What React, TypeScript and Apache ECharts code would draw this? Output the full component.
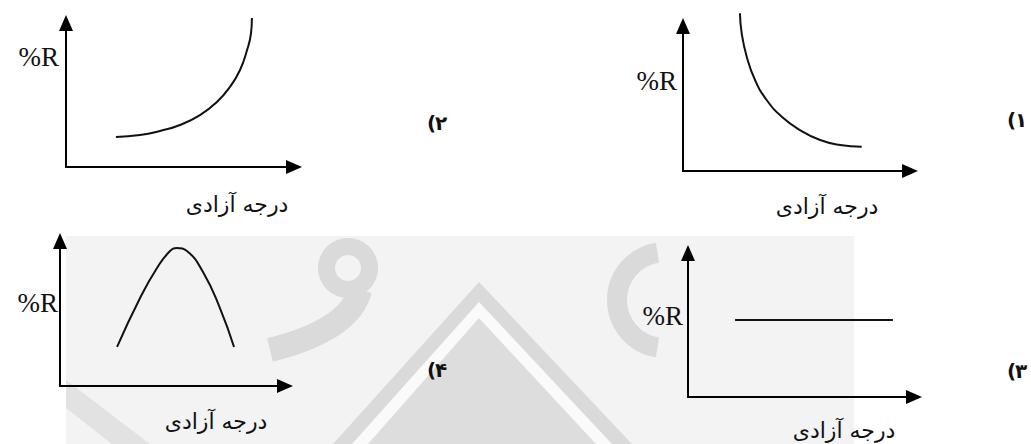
import React, { useEffect, useRef } from 'react';
import * as echarts from 'echarts';

// ---- texts ----
const optionParen = '(';
const optionDigits = ['۱', '۲', '۳', '۴'];
const yAxisTitle = '%R';
const xAxisTitle = 'درجه آزادی';

// ---- curves (x: degrees of freedom, y: %R, both on a 0..100 relative scale) ----
// option 1 (top right): decreasing
const curve1X = [26.0, 26.8, 29.1, 32.9, 38.2, 45.1, 53.4, 62.6, 71.7, 81.6];
const curve1Y = [115.1, 100.5, 83.4, 66.4, 51.8, 39.6, 29.9, 22.6, 19.0, 17.7];
// option 2 (top left): increasing
const curve2X = [22.7, 33.6, 42.7, 51.8, 60.9, 68.6, 74.5, 79.1, 82.3, 84.1, 84.5];
const curve2Y = [22.1, 23.5, 26.5, 30.9, 38.2, 47.8, 58.8, 71.3, 86.0, 98.5, 109.6];
// option 3 (bottom right): constant
const curve3X = [21.6, 94.0];
const curve3Y = [56.6, 56.6];
// option 4 (bottom left): rise then fall
const curve4X = [26.3, 36.9, 44.7, 50.7, 53.9, 58.5, 65.9, 73.7, 80.2];
const curve4Y = [28.5, 64.2, 86.1, 98.5, 100.7, 98.5, 83.2, 56.9, 28.5];

const curvesX = [curve1X, curve2X, curve3X, curve4X];
const curvesY = [curve1Y, curve2Y, curve3Y, curve4Y];

// layout of the four panels (option 1, 2, 3, 4)
const grids = [
  { left: 683, top: 34, width: 219, height: 137 },
  { left: 66, top: 31, width: 220, height: 136 },
  { left: 688, top: 261, width: 218, height: 136 },
  { left: 60, top: 249, width: 217, height: 137 },
];
const yTitlePos = [
  [677, 81],
  [59, 57],
  [683, 316],
  [58, 303],
];
const xTitlePos = [
  [827, 206],
  [237, 204],
  [844, 430],
  [216, 421],
];
const optionPos = [
  [1007, 120],
  [427, 123],
  [1007, 371],
  [427, 370],
];

const axisLine = {
  show: true,
  onZero: false,
  symbol: ['none', 'triangle'],
  symbolSize: [14, 16],
  symbolOffset: [0, 8],
  lineStyle: { color: '#000', width: 2 },
};

export default function App() {
  const ref = useRef<HTMLDivElement>(null);

  useEffect(() => {
    document.body.style.margin = '0';
    if (!ref.current) return;
    const chart = echarts.init(ref.current, null, { renderer: 'svg' });

    const gray = '#dadada';
    const watermark: any[] = [
      { type: 'rect', z: -20, shape: { x: 66, y: 236, width: 788, height: 208 }, style: { fill: '#f3f3f3' } },
      { type: 'polygon', z: -19, shape: { points: [[333, 444], [479, 282], [632, 444]] }, style: { fill: gray } },
      { type: 'polygon', z: -18, shape: { points: [[352, 444], [479, 302], [612, 444]] }, style: { fill: '#fafafa' } },
      { type: 'polygon', z: -17, shape: { points: [[368, 444], [479, 318], [596, 444]] }, style: { fill: '#dddddd' } },
      { type: 'ring', z: -16, shape: { cx: 348, cy: 268, r: 30, r0: 13 }, style: { fill: gray } },
      {
        type: 'bezierCurve', z: -16,
        shape: { x1: 360, y1: 290, cpx1: 350, cpy1: 330, x2: 270, y2: 350 },
        style: { stroke: gray, lineWidth: 24, fill: 'none' },
      },
      {
        type: 'arc', z: -16,
        shape: { cx: 665, cy: 300, r: 48, startAngle: Math.PI * 0.55, endAngle: Math.PI * 1.45 },
        style: { stroke: gray, lineWidth: 20, fill: 'none' },
      },
      { type: 'polygon', z: -16, shape: { points: [[66, 380], [66, 408], [112, 444], [150, 444]] }, style: { fill: '#e2e2e2' } },
    ];

    const texts: any[] = [];
    for (let i = 0; i < 4; i++) {
      texts.push({
        type: 'text', z: 100,
        x: yTitlePos[i][0], y: yTitlePos[i][1],
        style: {
          text: yAxisTitle, fill: '#111', font: '27px "Liberation Serif", "DejaVu Serif", serif',
          align: 'right', verticalAlign: 'middle',
        },
      });
      texts.push({
        type: 'text', z: 100,
        x: xTitlePos[i][0], y: xTitlePos[i][1],
        style: {
          text: xAxisTitle, fill: '#111', font: '22px "DejaVu Sans", sans-serif',
          align: 'center', verticalAlign: 'middle',
        },
      });
      // option number: parenthesis on the left, Persian digit on the right
      texts.push({
        type: 'text', z: 100,
        x: optionPos[i][0], y: optionPos[i][1],
        style: {
          text: optionParen, fill: '#111', font: 'bold 20px "DejaVu Sans", sans-serif',
          align: 'left', verticalAlign: 'middle',
        },
      });
      texts.push({
        type: 'text', z: 100,
        x: optionPos[i][0] + 8, y: optionPos[i][1],
        style: {
          text: optionDigits[i], fill: '#111', font: 'bold 20px "DejaVu Sans", sans-serif',
          align: 'left', verticalAlign: 'middle',
        },
      });
    }

    const option: any = {
      animation: false,
      backgroundColor: '#ffffff',
      grid: grids.map((g) => ({ ...g, containLabel: false })),
      xAxis: grids.map((_, i) => ({
        type: 'value', gridIndex: i, min: 0, max: 100,
        axisLine, axisTick: { show: false }, axisLabel: { show: false }, splitLine: { show: false },
      })),
      yAxis: grids.map((_, i) => ({
        type: 'value', gridIndex: i, min: 0, max: 100,
        axisLine, axisTick: { show: false }, axisLabel: { show: false }, splitLine: { show: false },
      })),
      series: curvesX.map((xs, i) => ({
        type: 'line',
        xAxisIndex: i, yAxisIndex: i,
        data: xs.map((x, j) => [x, curvesY[i][j]]),
        smooth: i === 2 ? false : 0.5,
        showSymbol: false,
        clip: false,
        lineStyle: { color: '#111', width: 2 },
        z: 5,
      })),
      graphic: [...watermark, ...texts],
    };
    chart.setOption(option);
    return () => chart.dispose();
  }, []);

  return (
    <div
      ref={ref}
      style={{ position: 'fixed', left: 0, top: 0, width: 1031, height: 444 }}
    />
  );
}
